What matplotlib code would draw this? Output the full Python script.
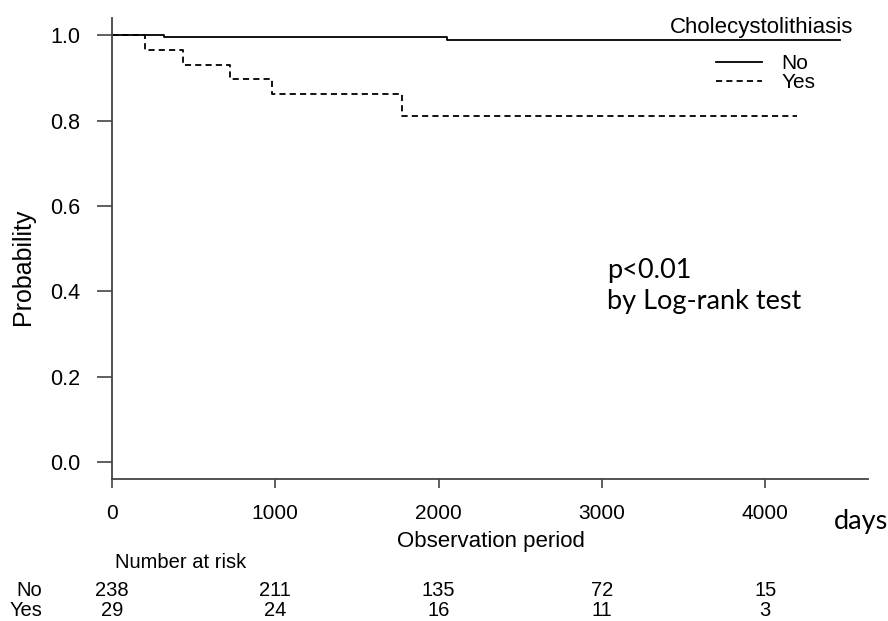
import numpy as np
import matplotlib.pyplot as plt

plt.rcParams['font.family'] = ['Liberation Sans', 'DejaVu Sans']

# Kaplan-Meier estimates (days, survival probability)
no_times = [0, 320, 2050, 4458]
no_surv = [1.0, 0.9958, 0.9884, 0.9884]
yes_times = [0, 200, 435, 720, 980, 1775, 4193]
yes_surv = [1.0, 0.9655, 0.9310, 0.8966, 0.8621, 0.8114, 0.8114]

xticks = [0, 1000, 2000, 3000, 4000]
yticks = [0.0, 0.2, 0.4, 0.6, 0.8, 1.0]
risk_no = [238, 211, 135, 72, 15]
risk_yes = [29, 24, 16, 11, 3]

W, H = 888, 621
fig = plt.figure(figsize=(W / 100, H / 100), dpi=100)
ax = fig.add_axes([112 / W, 1 - 479.3 / H, (868 - 112) / W, (479.3 - 18) / H])

ax.step(no_times, no_surv, where='post', color='black', lw=1.3, label='No')
ax.step(yes_times, yes_surv, where='post', color='black', lw=1.3,
        dashes=(3.4, 2.3), label='Yes')

ax.set_xlim(0, 4630)
ax.set_ylim(-0.04, 1.04)
for s in ['top', 'right']:
    ax.spines[s].set_visible(False)
for s in ['left', 'bottom']:
    ax.spines[s].set_color('#444444')
    ax.spines[s].set_linewidth(1.3)

ax.set_xticks(xticks)
ax.set_xticklabels([str(t) for t in xticks])
ax.set_yticks(yticks)
ax.set_yticklabels(['%.1f' % t for t in yticks])
ax.tick_params(axis='y', length=11, width=1.2, color='#444444', pad=12, labelsize=15.5)
ax.tick_params(axis='x', length=6.5, width=1.2, color='#444444', pad=11, labelsize=15)

fig.text(853 / W, 1 - 27 / H, 'Cholecystolithiasis', ha='right', va='center', fontsize=16)
leg = ax.legend(frameon=False, fontsize=15, loc='upper left',
                bbox_to_anchor=(716 / W, 1 - 54 / H), bbox_transform=fig.transFigure,
                handlelength=2.2, handletextpad=0.95, labelspacing=0.0, borderpad=0,
                borderaxespad=0)

fig.text(23 / W, 1 - 267 / H, 'Probability', rotation=90, ha='center', va='center', fontsize=18)
fig.text(491 / W, 1 - 541 / H, 'Observation period', ha='center', va='center', fontsize=16)
fig.text(834 / W, 1 - 521 / H, 'days', ha='left', va='center', fontsize=19.5,
         family=['Lato', 'DejaVu Sans'])
fig.text(607 / W, 1 - 271 / H, 'p<0.01', ha='left', va='center', fontsize=19.5,
         family=['Lato', 'DejaVu Sans'])
fig.text(607 / W, 1 - 302 / H, 'by Log-rank test', ha='left', va='center', fontsize=19.5,
         family=['Lato', 'DejaVu Sans'])

# number at risk table
fig.text(115 / W, 1 - 562 / H, 'Number at risk', ha='left', va='center', fontsize=14.5)
fig.text(42 / W, 1 - 590 / H, 'No', ha='right', va='center', fontsize=14.5)
fig.text(42 / W, 1 - 611 / H, 'Yes', ha='right', va='center', fontsize=14.5)
for t, n_no, n_yes in zip(xticks, risk_no, risk_yes):
    xf = ax.transData.transform((t, 0))[0] / W
    fig.text(xf, 1 - 590 / H, str(n_no), ha='center', va='center', fontsize=14.5)
    fig.text(xf, 1 - 611 / H, str(n_yes), ha='center', va='center', fontsize=14.5)

fig.savefig('out.png', dpi=100)
